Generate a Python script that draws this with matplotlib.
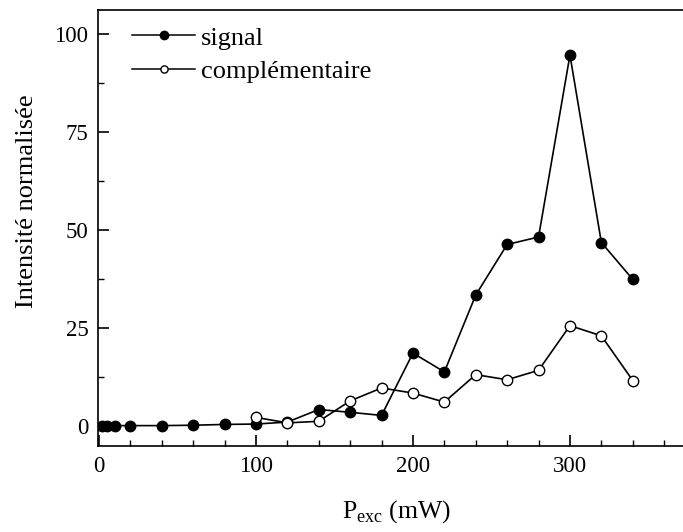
import matplotlib
matplotlib.use("Agg")
import matplotlib.pyplot as plt
from matplotlib.ticker import MultipleLocator

plt.rcParams['font.family'] = ['Liberation Serif', 'DejaVu Serif']
plt.rcParams['mathtext.fontset'] = 'custom'
plt.rcParams['mathtext.rm'] = 'Liberation Serif'

signal_x = [2, 5, 10, 20, 40, 60, 80, 100, 120, 140, 160, 180, 200, 220, 240, 260, 280, 300, 320, 340]
signal_y = [0, 0, 0, 0, 0, 0.1, 0.3, 0.4, 0.9, 4.1, 3.4, 2.6, 18.5, 13.7, 33.3, 46.2, 48.1, 94.5, 46.7, 37.3]

comp_x = [100, 120, 140, 160, 180, 200, 220, 240, 260, 280, 300, 320, 340]
comp_y = [2.1, 0.7, 1.1, 6.3, 9.6, 8.3, 6.0, 13.0, 11.7, 14.1, 25.5, 22.9, 11.5]

fig = plt.figure(figsize=(6.83, 5.32), dpi=100)
ax = fig.add_axes([98/683, 1-446/532, 1-98/683, (446-10)/532])

ax.plot(signal_x, signal_y, '-o', color='black', lw=1.2, markersize=7.5,
        markerfacecolor='black', markeredgecolor='black', label='signal')
ax.plot(comp_x, comp_y, '-o', color='black', lw=1.2, markersize=7.5,
        markerfacecolor='white', markeredgecolor='black', markeredgewidth=1.0,
        label='complémentaire')

ax.set_xlim(-0.6, 372)
ax.set_ylim(-5.2, 106)
ax.xaxis.set_major_locator(MultipleLocator(100))
ax.xaxis.set_minor_locator(MultipleLocator(20))
ax.yaxis.set_major_locator(MultipleLocator(25))
ax.yaxis.set_minor_locator(MultipleLocator(12.5))
ax.tick_params(which='major', direction='in', length=8, width=1.2, labelsize=16.5, pad=7)
ax.tick_params(which='minor', direction='in', length=4.5, width=1.0)
ax.spines['right'].set_visible(False)
for s in ['left', 'bottom', 'top']:
    ax.spines[s].set_linewidth(1.2)

ax.set_xlabel(r'P$_{\mathrm{exc}}$ (mW)', fontsize=18.5)
ax.xaxis.set_label_coords(0.511, -0.119)
ax.set_ylabel('Intensité normalisée', fontsize=19)
ax.yaxis.set_label_coords(-0.103, 0.562)

leg = ax.legend(loc='upper left', frameon=False, fontsize=19,
                handlelength=2.4, handletextpad=0.2, borderaxespad=0, borderpad=0,
                labelspacing=0.38, bbox_to_anchor=(0.058, 0.963))
hs = leg.legend_handles
hs[0].set_markersize(6.0)
hs[1].set_markersize(5.2)
hs[0].set_linewidth(1.1)
hs[1].set_linewidth(1.1)

fig.savefig('out.png', dpi=100)
